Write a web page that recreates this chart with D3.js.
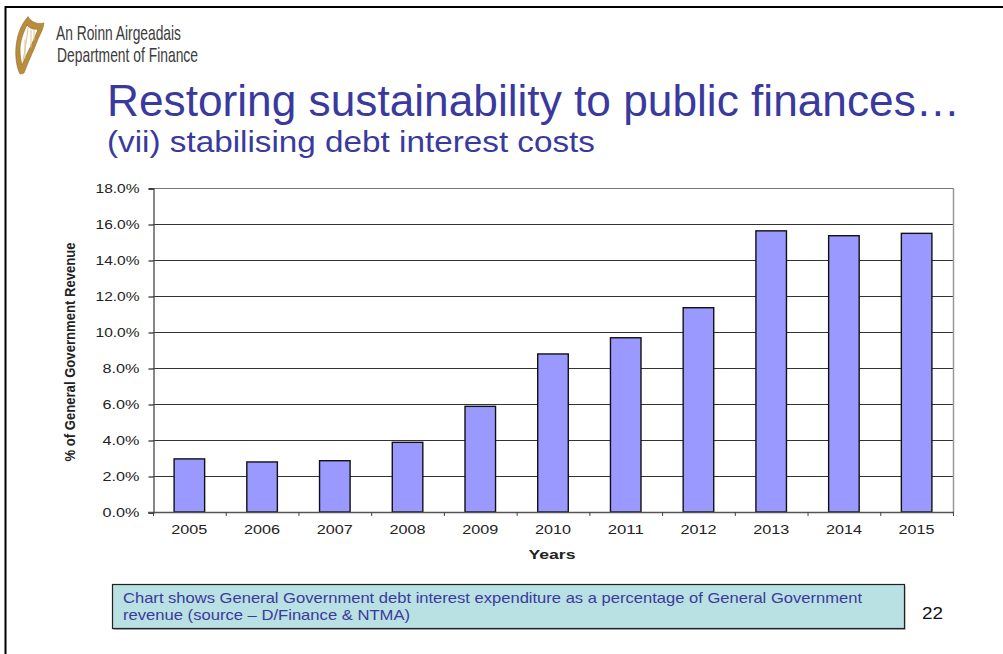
<!DOCTYPE html>
<html>
<head>
<meta charset="utf-8">
<script src="https://cdn.jsdelivr.net/npm/d3@7/dist/d3.min.js"></script>
<style>
html,body{margin:0;padding:0;background:#fff;overflow:hidden}
svg{display:block}
text{font-family:"Liberation Sans",Arial,sans-serif}
</style>
</head>
<body>
<div id="chart"></div>
<script>
// Debt interest as a share of General Government revenue
const years = ["2005","2006","2007","2008","2009","2010","2011","2012","2013","2014","2015"];
const interestShare = [2.95,2.78,2.85,3.87,5.87,8.78,9.68,11.35,15.62,15.35,15.48];
const yTicks = [0,2,4,6,8,10,12,14,16,18];
const noteLines = [
  {text:"Chart shows General Government debt interest expenditure as a percentage of General Government", width:739},
  {text:"revenue (source \u2013 D/Finance & NTMA)", width:287}
];

const W = 1003, H = 654;
const plot = {left:153, right:953, top:188, bottom:512};
const ink = "#3a3a9e";
const svg = d3.select("#chart").append("svg").attr("width",W).attr("height",H);

// Slide frame: top and left rules only
svg.append("path").attr("d",`M5.5,654V7H1003`).attr("fill","none").attr("stroke","#000").attr("stroke-width",2);

// Department crest: gold harp
const harp = svg.append("g").attr("stroke-linecap","round");
harp.append("path")
  .attr("d","M28,17C31,21 36,25 44,23C43,29 41,33 38,39C34,50 28,62 24,73L20,74C17,68 15,58 16,47C17,35 21,24 28,17ZM27,25C23,33 20,42 20,50C20,56 21,61 22,65C26,55 31,46 35,37C36,34 37,32 38,29C33,30 29,28 27,25Z")
  .attr("fill","#b98d3c").attr("fill-rule","evenodd").attr("stroke","#8f6a25").attr("stroke-width",0.6);
harp.append("path").attr("d","M23,61C25,50 27,38 28,28M25,40V58M31,30V47M34,30V40")
  .attr("fill","none").attr("stroke","#d9c494").attr("stroke-width",1);

// Department name, narrow and slightly grey
const brand = svg.append("g").attr("fill","#3c3c3c").attr("font-size",21);
brand.append("text").attr("x",56).attr("y",40).attr("textLength",125).attr("lengthAdjust","spacingAndGlyphs").text("An Roinn Airgeadais");
brand.append("text").attr("x",57).attr("y",62).attr("textLength",141).attr("lengthAdjust","spacingAndGlyphs").text("Department of Finance");

// Slide headings
svg.append("text").attr("x",107).attr("y",116).attr("font-size",44).attr("fill",ink)
  .attr("textLength",853).attr("lengthAdjust","spacingAndGlyphs").text("Restoring sustainability to public finances\u2026");
svg.append("text").attr("x",107).attr("y",152).attr("font-size",29.5).attr("fill",ink)
  .attr("textLength",488).attr("lengthAdjust","spacingAndGlyphs").text("(vii) stabilising debt interest costs");

// Scales
const xCell = d3.scaleBand().domain(years).range([plot.left,plot.right]);
const y = d3.scaleLinear().domain([0,18]).range([plot.bottom,plot.top]);

// Horizontal gridlines
svg.append("g").selectAll("line").data(yTicks.filter(d=>d>0)).join("line")
  .attr("x1",plot.left).attr("x2",plot.right)
  .attr("y1",d=>y(d)+0.5).attr("y2",d=>y(d)+0.5)
  .attr("stroke",d=>d===18?"#777":"#333").attr("stroke-width",1);

// Right edge of the plot area
svg.append("line").attr("x1",plot.right+0.5).attr("x2",plot.right+0.5).attr("y1",plot.top).attr("y2",plot.bottom)
  .attr("stroke","#999").attr("stroke-width",1.5);

// Bars
svg.append("g").selectAll("rect").data(years).join("rect")
  .attr("x",d=>xCell(d)+xCell.bandwidth()*0.29)
  .attr("width",xCell.bandwidth()*0.42)
  .attr("y",(d,i)=>y(interestShare[i]))
  .attr("height",(d,i)=>plot.bottom-y(interestShare[i]))
  .attr("fill","#9999ff").attr("stroke","#111").attr("stroke-width",1.4);

// Value axis: labels are drawn wider than the font's natural width
const yAxis = d3.axisLeft(y).tickValues(yTicks).tickSize(5).tickPadding(9).tickFormat(d=>d.toFixed(1)+"%");
const yG = svg.append("g").attr("transform",`translate(${plot.left+0.5},0.5)`).call(yAxis);
yG.select(".domain").attr("stroke","#555").attr("stroke-width",1.4);
yG.selectAll("text").attr("font-size",13.2).attr("fill","#222")
  .attr("textLength",d=>d>=10?44:37).attr("lengthAdjust","spacingAndGlyphs");

// Category axis, with ticks between the years
const xAxisG = svg.append("g");
xAxisG.append("line").attr("x1",plot.left-5).attr("x2",plot.right+1).attr("y1",plot.bottom+0.5).attr("y2",plot.bottom+0.5).attr("stroke","#555").attr("stroke-width",1.4);
xAxisG.selectAll("line.tick").data(years.concat(["end"])).join("line").attr("class","tick")
  .attr("x1",(d,i)=>plot.left+0.5+i*xCell.step()).attr("x2",(d,i)=>plot.left+0.5+i*xCell.step())
  .attr("y1",plot.bottom).attr("y2",plot.bottom+4).attr("stroke","#444");
xAxisG.selectAll("text").data(years).join("text")
  .attr("x",d=>xCell(d)+xCell.bandwidth()/2).attr("y",534)
  .attr("text-anchor","middle").attr("font-size",13.2).attr("fill","#222")
  .attr("textLength",36).attr("lengthAdjust","spacingAndGlyphs").text(d=>d);

// Axis titles
svg.append("text").attr("x",552).attr("y",559).attr("text-anchor","middle").attr("font-size",13).attr("font-weight","bold").attr("fill","#222")
  .attr("textLength",47).attr("lengthAdjust","spacingAndGlyphs").text("Years");
svg.append("text").attr("transform","translate(75,352) rotate(-90)").attr("text-anchor","middle")
  .attr("font-size",14.5).attr("font-weight","bold").attr("fill","#222")
  .attr("textLength",219).attr("lengthAdjust","spacingAndGlyphs").text("% of General Government Revenue");

// Explanatory note
svg.append("rect").attr("x",113.500).attr("y",586).attr("width",792).attr("height",44).attr("fill","#aaa");
svg.append("rect").attr("x",112.500).attr("y",584.500).attr("width",792).attr("height",44)
  .attr("fill","#b9e0e2").attr("stroke","#222").attr("stroke-width",1.2);
svg.append("g").selectAll("text").data(noteLines).join("text")
  .attr("x",123).attr("y",(d,i)=>603+i*17).attr("font-size",14.5).attr("fill",ink)
  .attr("textLength",d=>d.width).attr("lengthAdjust","spacingAndGlyphs").text(d=>d.text);

// Slide number
svg.append("text").attr("x",922).attr("y",619).attr("font-size",17).attr("fill","#111")
  .attr("textLength",21).attr("lengthAdjust","spacingAndGlyphs").text("22");
</script>
</body>
</html>
